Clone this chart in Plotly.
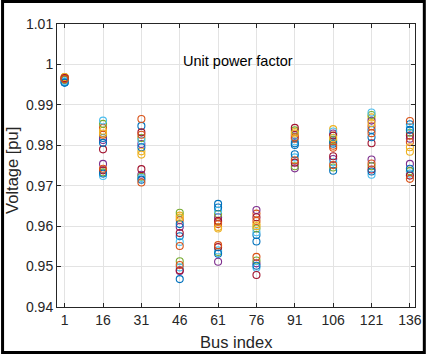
import plotly.graph_objects as go

bus_index = [1, 16, 31, 46, 61, 76, 91, 106, 121, 136]
y_ticks = [0.94, 0.95, 0.96, 0.97, 0.98, 0.99, 1.0, 1.01]
y_tick_labels = ["0.94", "0.95", "0.96", "0.97", "0.98", "0.99", "1", "1.01"]

# voltage of each case (position in list = case number) at each bus
v_bus1 = [0.9955, 0.9968, 0.9969, 0.9962, 0.9965, 0.9958, 0.9966, 0.9956, 0.9967, 0.9968,
          0.9963, 0.9962, 0.9957, 0.9966, 0.9955, 0.9964]
v_bus16 = [0.9818, 0.9843, 0.9836, 0.9813, 0.9853, 0.9861, 0.9790, 0.9806, 0.9826, 0.9829,
           0.9754, 0.9733, 0.9724, 0.9738, 0.9730, 0.9742]
v_bus31 = [0.9848, 0.9865, 0.9785, 0.9803, 0.9818, 0.9812, 0.9832, 0.9795, 0.9826, 0.9777,
           0.9727, 0.9722, 0.9719, 0.9741, 0.9715, 0.9708]
v_bus46 = [0.9575, 0.9615, 0.9626, 0.9598, 0.9633, 0.9561, 0.9583, 0.9605, 0.9551, 0.9621,
           0.9489, 0.9513, 0.9498, 0.9491, 0.9469, 0.9504]
v_bus61 = [0.9655, 0.9610, 0.9598, 0.9622, 0.9630, 0.9638, 0.9613, 0.9646, 0.9605, 0.9594,
           0.9512, 0.9536, 0.9540, 0.9548, 0.9532, 0.9553]
v_bus76 = [0.9578, 0.9631, 0.9605, 0.9640, 0.9594, 0.9585, 0.9622, 0.9562, 0.9613, 0.9600,
           0.9508, 0.9515, 0.9497, 0.9479, 0.9502, 0.9524]
v_bus91 = [0.9801, 0.9816, 0.9833, 0.9825, 0.9837, 0.9810, 0.9843, 0.9805, 0.9820, 0.9829,
           0.9743, 0.9748, 0.9770, 0.9757, 0.9778, 0.9763]
v_bus106 = [0.9809, 0.9794, 0.9840, 0.9829, 0.9813, 0.9834, 0.9824, 0.9804, 0.9799, 0.9818,
            0.9766, 0.9745, 0.9758, 0.9773, 0.9737, 0.9751]
v_bus121 = [0.9838, 0.9847, 0.9869, 0.9861, 0.9875, 0.9881, 0.9805, 0.9820, 0.9830, 0.9855,
            0.9765, 0.9748, 0.9727, 0.9740, 0.9735, 0.9755]
v_bus136 = [0.9852, 0.9860, 0.9784, 0.9816, 0.9831, 0.9845, 0.9824, 0.9838, 0.9808, 0.9795,
            0.9754, 0.9736, 0.9730, 0.9725, 0.9742, 0.9717]

bus_columns = [v_bus1, v_bus16, v_bus31, v_bus46, v_bus61, v_bus76,
               v_bus91, v_bus106, v_bus121, v_bus136]

matlab_colors = ["#0072BD", "#D95319", "#EDB120", "#7E2F8E", "#77AC30", "#4DBEEE", "#A2142F"]

fig = go.Figure()
n_cases = len(v_bus1)
for k in range(n_cases):
    fig.add_trace(go.Scatter(
        x=bus_index,
        y=[col[k] for col in bus_columns],
        mode="markers",
        marker=dict(symbol="circle-open", size=7,
                    color=matlab_colors[k % len(matlab_colors)],
                    line=dict(width=1.1)),
        showlegend=False,
        hoverinfo="x+y",
    ))

axis_color = "#262626"
grid_color = "#e3e3e3"
font_family = "Liberation Sans, Arial, sans-serif"

fig.update_xaxes(
    range=[-2, 138], tickvals=bus_index, ticktext=[str(b) for b in bus_index],
    showgrid=True, gridcolor=grid_color, gridwidth=1,
    showline=True, linecolor=axis_color, linewidth=1, mirror="ticks",
    ticks="inside", ticklen=4, tickcolor=axis_color, zeroline=False,
    tickfont=dict(family=font_family, size=14, color=axis_color),
)
fig.update_yaxes(
    range=[0.94, 1.01], tickvals=y_ticks, ticktext=y_tick_labels,
    showgrid=True, gridcolor=grid_color, gridwidth=1,
    showline=True, linecolor=axis_color, linewidth=1, mirror="ticks",
    ticks="inside", ticklen=4, tickcolor=axis_color, zeroline=False,
    tickfont=dict(family=font_family, size=14, color=axis_color),
)

L, R, T, B = 57, 11, 24, 47
W, H = 433, 354
pw, ph = W - L - R, H - T - B

def px(xp):
    return (xp - L) / pw

def py(yp):
    return (H - B - yp) / ph

fig.add_annotation(x=px(240), y=py(342), xref="paper", yref="paper",
                   text="Bus index", showarrow=False,
                   font=dict(family=font_family, size=16.5, color=axis_color),
                   xanchor="center", yanchor="middle")
fig.add_annotation(x=px(11), y=py(170), xref="paper", yref="paper",
                   text="Voltage [pu]", showarrow=False, textangle=-90,
                   font=dict(family=font_family, size=16.5, color=axis_color),
                   xanchor="center", yanchor="middle")
fig.add_annotation(x=46.5, y=1.0008, xref="x", yref="y",
                   text="Unit power factor", showarrow=False,
                   font=dict(family=font_family, size=14.5, color="#000000"),
                   xanchor="left", yanchor="middle")

fig.add_shape(type="rect", xref="paper", yref="paper",
              x0=px(1.5), x1=px(431.5), y0=py(352.5), y1=py(1.5),
              line=dict(color="black", width=3), layer="above")

fig.update_layout(
    width=W, height=H,
    margin=dict(l=L, r=R, t=T, b=B),
    paper_bgcolor="white", plot_bgcolor="white",
)

fig.write_html("out.html")
